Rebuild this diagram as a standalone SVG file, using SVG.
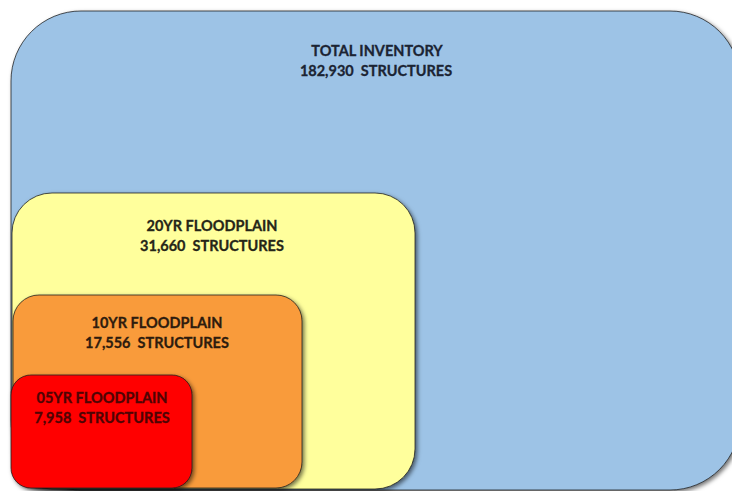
<svg xmlns="http://www.w3.org/2000/svg" width="732" height="491" viewBox="0 0 732 491">
  <defs>
    <filter id="shadow" x="-10%" y="-10%" width="120%" height="120%">
      <feDropShadow dx="2" dy="2" stdDeviation="2.2" flood-color="#000" flood-opacity="0.55"/>
    </filter>
    <style>
      .box { stroke: #1a1a1a; stroke-opacity: 0.75; stroke-width: 1; filter: url(#shadow); }
      .lbl { font-family: "Lato", "Liberation Sans", sans-serif; font-weight: bold; font-size: 14.5px; text-anchor: middle; white-space: pre; stroke-width: 0.3; }
    </style>
  </defs>
  <rect width="732" height="491" fill="#ffffff"/>
  <g id="total-inventory">
    <rect class="box" x="11" y="11" width="729" height="479" rx="70" ry="70" fill="#9dc3e6"/>
    <text class="lbl" x="377" y="56" fill="#1b2433" stroke="#1b2433">TOTAL INVENTORY</text>
    <text class="lbl" x="376" y="76" fill="#1b2433" stroke="#1b2433">182,930  STRUCTURES</text>
  </g>
  <g id="floodplain-20yr">
    <rect class="box" x="12" y="193" width="403" height="296" rx="40" ry="40" fill="#ffff9c"/>
    <text class="lbl" x="212" y="231" fill="#262618" stroke="#262618">20YR FLOODPLAIN</text>
    <text class="lbl" x="212" y="251" fill="#262618" stroke="#262618">31,660  STRUCTURES</text>
  </g>
  <g id="floodplain-10yr">
    <rect class="box" x="13" y="295" width="289" height="193" rx="26" ry="26" fill="#f99b3a"/>
    <text class="lbl" x="157" y="328" fill="#2e1c0e" stroke="#2e1c0e">10YR FLOODPLAIN</text>
    <text class="lbl" x="157" y="348" fill="#2e1c0e" stroke="#2e1c0e">17,556  STRUCTURES</text>
  </g>
  <g id="floodplain-05yr">
    <rect class="box" x="11" y="375" width="181" height="113" rx="20" ry="20" fill="#ff0000"/>
    <text class="lbl" x="102" y="403" fill="#4e0404" stroke="#4e0404">05YR FLOODPLAIN</text>
    <text class="lbl" x="102" y="423" fill="#4e0404" stroke="#4e0404">7,958  STRUCTURES</text>
  </g>
  <g id="connectors"/>
</svg>
